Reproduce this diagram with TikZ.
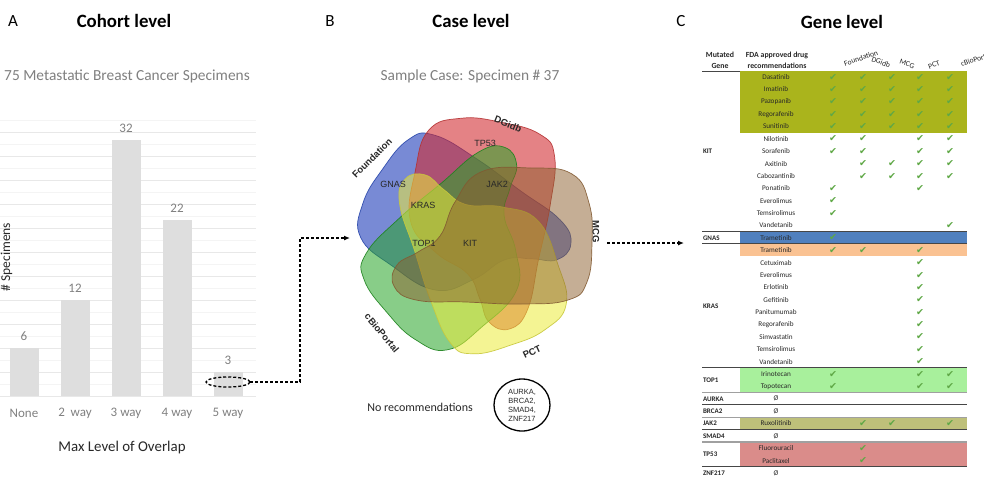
\documentclass[tikz,border=0pt]{standalone}
\usepackage{fontspec}
\setmainfont{Carlito}
\newfontfamily\arialf{Liberation Sans}
\newfontfamily\symf{DejaVu Sans}
\usetikzlibrary{arrows.meta,shapes.geometric}
\definecolor{txtgray}{RGB}{128,128,128}
\definecolor{darktxt}{RGB}{40,40,40}
\definecolor{barfill}{RGB}{222,222,222}
\definecolor{gridmaj}{RGB}{232,232,232}
\definecolor{gridmin}{RGB}{244,244,244}
\definecolor{ckgreen}{RGB}{95,168,70}
\definecolor{bandKIT}{RGB}{170,180,28}
\definecolor{bandGNAS}{RGB}{80,128,190}
\definecolor{bandKRAS}{RGB}{250,194,146}
\definecolor{bandTOP}{RGB}{168,240,156}
\definecolor{bandJAK}{RGB}{190,192,122}
\definecolor{bandTP}{RGB}{218,140,138}
\definecolor{sepdark}{RGB}{70,70,70}
\definecolor{seplight}{RGB}{160,160,160}
\definecolor{vblue}{RGB}{30,60,185}
\definecolor{vbluel}{RGB}{40,70,170}
\definecolor{vred}{RGB}{210,40,45}
\definecolor{vredl}{RGB}{180,50,50}
\definecolor{vbrown}{RGB}{140,95,45}
\definecolor{vbrownl}{RGB}{130,90,50}
\definecolor{vgreen}{RGB}{40,165,40}
\definecolor{vgreenl}{RGB}{30,130,30}
\definecolor{vyellow}{RGB}{235,235,60}
\definecolor{vyellowl}{RGB}{200,200,60}
\tikzset{
  paneltag/.style={font=\fontsize{17}{20}\selectfont},
  ptitle/.style={font=\bfseries\fontsize{18.8}{22}\selectfont},
  subt/.style={font=\fontsize{15.4}{18}\selectfont, text=txtgray},
  barval/.style={font=\fontsize{13}{15}\selectfont, text=txtgray},
  catlab/.style={font=\fontsize{13}{15}\selectfont, text=txtgray},
  axlab/.style={font=\fontsize{14.9}{17}\selectfont, text=darktxt},
  setlab/.style={font=\arialf\bfseries\fontsize{9.5}{11}\selectfont, text=darktxt},
  genelab/.style={font=\arialf\fontsize{9}{10}\selectfont, text=darktxt},
  dasharr/.style={draw=black, line width=1.3pt, dash pattern=on 3pt off 2pt, -{Latex[length=6pt,width=5pt]}},
  drug/.style={font=\fontsize{7.2}{8}\selectfont, text=darktxt},
  tgene/.style={font=\bfseries\fontsize{7}{8}\selectfont, text=darktxt, anchor=west},
  thead/.style={font=\bfseries\fontsize{7.8}{11}\selectfont, text=darktxt, align=center},
  colhead/.style={font=\fontsize{7.6}{8}\selectfont, text=darktxt},
  ckm/.style={font=\symf\fontsize{9.5}{9.5}\selectfont, text=ckgreen},
}
\begin{document}
\begin{tikzpicture}[x=1pt,y=-1pt, every node/.style={inner sep=0pt, outer sep=0pt}]
\useasboundingbox (0,0) rectangle (984,480);
\fill[white] (0,0) rectangle (984,480);

% ---------------- Panel A ----------------
\node[paneltag] (tagA) at (13,21) {A};
\node[ptitle] (titA) at (124,21) {Cohort level};
\node[subt] (subA) at (127,76) {75 Metastatic Breast Cancer Specimens};
\foreach \k in {1,...,23} {
  \draw[gridmin, line width=0.6pt] (0,{396-12*\k}) -- (256,{396-12*\k});
}
\foreach \k in {1,...,11} {
  \draw[gridmaj, line width=0.8pt] (0,{396-24*\k}) -- (256,{396-24*\k});
}
\draw[gridmaj, line width=0.8pt] (0,396) -- (256,396);
\foreach \i/\v in {0/6,1/12,2/32,3/22,4/3} {
  \fill[barfill] ({24+51*\i-14.5},{396-8*\v}) rectangle ({24+51*\i+14.5},396);
  \node[barval] (bv\i) at ({24+51*\i},{396-8*\v-12}) {\v};
}
\node[catlab] (cat0) at (24,413) {None};
\node[catlab] (cat1) at (75,413) {2\ \ way};
\node[catlab] (cat2) at (126,413) {3 way};
\node[catlab] (cat3) at (177,413) {4 way};
\node[catlab] (cat4) at (228,413) {5 way};
\node[axlab] (xlab) at (122,448) {Max Level of Overlap};
\node[axlab, font=\fontsize{13.5}{15}\selectfont, rotate=90] (ylab) at (6.5,257) {\# Specimens};

\node[draw=black, ellipse, dash pattern=on 3pt off 2pt, line width=1.3pt, minimum width=44pt, minimum height=10pt] (ell) at (228,382) {};
\coordinate (c1) at (300,382);
\coordinate (c2) at (300,238);
\coordinate (vin) at (350,238);
\draw[dasharr] (ell.east) -- (c1) -- (c2) -- (vin);

% ---------------- Panel B ----------------
\node[paneltag] (tagB) at (330,21) {B};
\node[ptitle] (titB) at (471,21) {Case level};
\node[subt] (subB) at (470,76) {Sample Case: Specimen \# 37};

\foreach \ang/\fc/\dc/\sc/\op in {146/vblue/vbluel/1.0/0.6, 80/vred/vredl/1.02/0.58, 222/vgreen/vgreenl/1.0/0.55, 290/vyellow/vyellowl/0.97/0.55, 0/vbrown/vbrownl/1.0/0.5} {
  \filldraw[fill=\fc, draw=\dc, fill opacity=\op, draw opacity=0.9, line width=0.7pt, shift={(476,238)}, rotate=\ang, scale=\sc]
    plot[smooth cycle, tension=0.75] coordinates {(5,-66) (55,-70) (96,-64) (113,-35) (116,4) (111,44) (92,62) (45,66) (-10,64) (-60,62) (-82,48) (-79,27) (-58,14) (-36,-2) (-21,-36)};
}
\node[setlab, rotate=45] (sFound) at (372,158) {Foundation};
\node[setlab, rotate=-22] (sDG) at (508,124) {DGidb};
\node[setlab, rotate=-90] (sMCG) at (596,232) {MCG};
\node[setlab, rotate=-50] (sCB) at (382,333) {cBioPortal};
\node[setlab, rotate=25] (sPCT) at (532,352) {PCT};
\node[genelab] (gGNAS) at (393,184) {GNAS};
\node[genelab] (gTP53) at (485,143) {TP53};
\node[genelab] (gJAK2) at (497,184) {JAK2};
\node[genelab] (gKRAS) at (423,205) {KRAS};
\node[genelab] (gTOP1) at (424,243) {TOP1};
\node[genelab] (gKIT) at (470,243) {KIT};

\node[font=\fontsize{12}{14}\selectfont, text=darktxt] (norec) at (420,407) {No recommendations};
\node[draw=black, ellipse, line width=1.3pt, minimum width=56pt, minimum height=52pt, align=center, font=\arialf\fontsize{7.5}{9}\selectfont, text=darktxt] (nrset) at (522,405) {AURKA,\\BRCA2,\\SMAD4,\\ZNF217};

\coordinate (mcgout) at (607,243);
\coordinate (tblin) at (684,243);
\draw[dasharr] (mcgout) -- (tblin);

% ---------------- Panel C ----------------
\node[paneltag] (tagC) at (681,21) {C};
\node[ptitle] (titC) at (842,22) {Gene level};
\node[thead] (h1) at (720,60) {Mutated\\Gene};
\node[thead] (h2) at (777,60) {FDA approved drug\\recommendations};
\node[colhead, rotate=19] (hF) at (861,58) {Foundation};
\node[colhead, rotate=-20] (hD) at (881,62) {DGidb};
\node[colhead, rotate=-20] (hM) at (907,64) {MCG};
\node[colhead, rotate=20] (hP) at (934,65) {PCT};
\node[colhead, rotate=18, anchor=west] (hC) at (961,64) {cBioPortal};
\draw[sepdark, line width=1pt] (702,71) -- (967,71);

% bands
\fill[bandKIT] (740,70.8) rectangle (967,132.7);
\fill[bandGNAS] (740,231.7) rectangle (967,243.8);
\fill[bandKRAS] (740,243.8) rectangle (967,256.2);
\fill[bandTOP] (740,367.8) rectangle (967,392.6);
\fill[bandJAK] (740,417.3) rectangle (967,429.7);
\fill[bandTP] (740,442.1) rectangle (967,466.8);

% separators
\foreach \yy in {231.7,243.8,367.8,404.9,429.7,466.8} {
  \draw[sepdark, line width=1pt] (702,\yy) -- (967,\yy);
}
\foreach \yy in {392.6,417.3,442.1} {
  \draw[seplight, line width=1.6pt] (702,\yy) -- (967,\yy);
}

% drugs and checks
\foreach \r/\d/\cs in {0/Dasatinib/{1,2,3,4,5}, 1/Imatinib/{1,2,3,4,5}, 2/Pazopanib/{1,2,3,4,5}, 3/Regorafenib/{1,2,3,4,5}, 4/Sunitinib/{1,2,3,4,5}, 5/Nilotinib/{1,2,4,5}, 6/Sorafenib/{1,2,4,5}, 7/Axitinib/{2,3,4,5}, 8/Cabozantinib/{2,3,4,5}, 9/Ponatinib/{1,4}, 10/Everolimus/{1}, 11/Temsirolimus/{1}, 12/Vandetanib/{5}, 13/Trametinib/{1}, 14/Trametinib/{1,2,4}, 15/Cetuximab/{4}, 16/Everolimus/{4}, 17/Erlotinib/{4}, 18/Gefitinib/{4}, 19/Panitumumab/{4}, 20/Regorafenib/{4}, 21/Simvastatin/{4}, 22/Temsirolimus/{4}, 23/Vandetanib/{4}, 24/Irinotecan/{1,4,5}, 25/Topotecan/{1,4,5}, 28/Ruxolitinib/{2,3,5}, 30/Fluorouracil/{2}, 31/Paclitaxel/{2}} {
  \node[drug] (dr\r) at (776,{77+12.375*\r}) {\d};
  \foreach \c in \cs {
    \pgfmathsetmacro{\cx}{{833,863,892,920,950}[\c-1]}
    \node[ckm] (ck\r-\c) at (\cx,{77+12.375*\r}) {✔};
  }
}
\foreach \r in {26,27,29,32} {
  \node[drug] (dr\r) at (776,{77+12.375*\r}) {Ø};
}
\node[tgene] (tKIT) at (703,151.3) {KIT};
\node[tgene] (tGNAS) at (703,237.9) {GNAS};
\node[tgene] (tKRAS) at (703,305.9) {KRAS};
\node[tgene] (tTOP1) at (703,380.2) {TOP1};
\node[tgene] (tAURKA) at (703,398.8) {AURKA};
\node[tgene] (tBRCA2) at (703,411.1) {BRCA2};
\node[tgene] (tJAK2) at (703,423.5) {JAK2};
\node[tgene] (tSMAD4) at (703,435.9) {SMAD4};
\node[tgene] (tTP53) at (703,454.4) {TP53};
\node[tgene] (tZNF) at (703,473) {ZNF217};
\end{tikzpicture}
\end{document}
